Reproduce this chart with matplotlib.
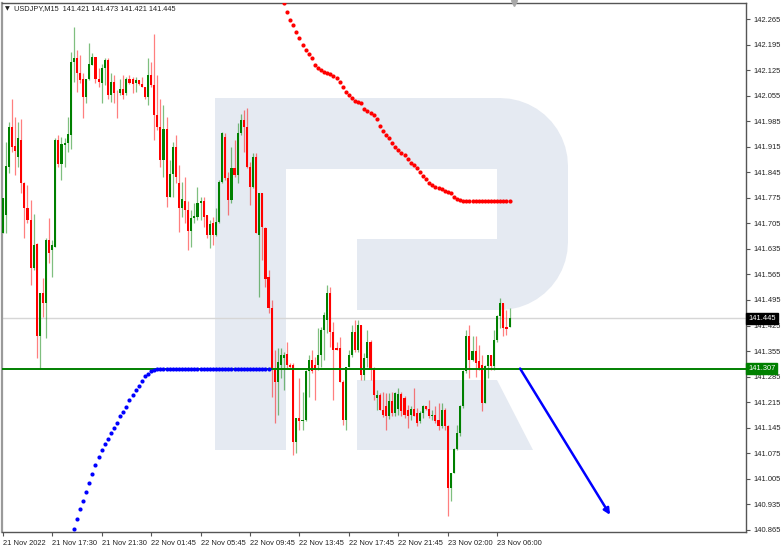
import numpy as np
import matplotlib

matplotlib.use('Agg')
import matplotlib.pyplot as plt
from matplotlib.patches import Polygon
from matplotlib.transforms import Affine2D, blended_transform_factory

plt.rcParams['font.family'] = ['Liberation Sans', 'DejaVu Sans']

# USDJPY M15 candles (index 0 = 21 Nov 13:30)
opens = [141.678, 141.728, 141.860, 141.970, 141.917, 141.888, 141.933, 141.815, 141.746, 141.714,
         141.582, 141.648, 141.395, 141.515, 141.486, 141.659, 141.632, 141.641, 141.933, 141.869,
         141.920, 141.924, 141.947, 142.148, 142.157, 142.116, 142.102, 142.052, 142.102, 142.139,
         142.162, 142.102, 142.089, 142.130, 142.154, 142.057, 142.093, 142.063, 142.061, 142.072,
         142.061, 142.100, 142.100, 142.089, 142.098, 142.087, 142.079, 142.052, 142.111, 142.084,
         142.002, 141.970, 141.879, 141.965, 141.778, 141.840, 141.915, 141.815, 141.746, 141.765,
         141.742, 141.685, 141.719, 141.723, 141.760, 141.765, 141.728, 141.673, 141.705, 141.673,
         141.710, 141.819, 141.942, 141.828, 141.769, 141.856, 141.837, 141.952, 141.988, 141.968,
         141.860, 141.806, 141.888, 141.673, 141.787, 141.691, 141.559, 141.472, 141.303, 141.271,
         141.317, 141.335, 141.346, 141.317, 141.317, 141.107, 141.171, 141.162, 141.166, 141.299,
         141.331, 141.317, 141.317, 141.344, 141.413, 141.440, 141.513, 141.408, 141.362, 141.362,
         141.271, 141.166, 141.312, 141.344, 141.408, 141.358, 141.426, 141.289, 141.335, 141.381,
         141.308, 141.226, 141.235, 141.194, 141.203, 141.176, 141.217, 141.185, 141.195, 141.236,
         141.226, 141.194, 141.180, 141.196, 141.185, 141.162, 141.185, 141.203, 141.196, 141.176,
         141.180, 141.165, 141.149, 141.194, 141.149, 140.980, 141.021, 141.086, 141.130, 141.203,
         141.299, 141.395, 141.331, 141.354, 141.327, 141.317, 141.212, 141.313, 141.345, 141.313,
         141.386, 141.450, 141.486, 141.422, 141.421]
highs = [141.774, 141.929, 141.984, 142.047, 141.997, 141.984, 141.991, 141.819, 141.810, 141.769,
         141.732, 141.650, 141.515, 141.554, 141.664, 141.719, 141.659, 141.938, 141.947, 141.942,
         141.938, 141.997, 142.175, 142.244, 142.180, 142.166, 142.116, 142.102, 142.198, 142.171,
         142.162, 142.130, 142.143, 142.157, 142.157, 142.116, 142.111, 142.070, 142.102, 142.111,
         142.107, 142.111, 142.107, 142.107, 142.098, 142.107, 142.079, 142.157, 142.148, 142.225,
         142.111, 142.047, 142.029, 141.997, 141.879, 141.929, 141.947, 141.865, 141.819, 141.833,
         141.765, 141.742, 141.760, 141.806, 141.778, 141.778, 141.728, 141.714, 141.723, 141.746,
         141.824, 141.956, 141.952, 141.847, 141.915, 141.933, 141.979, 142.006, 142.015, 142.020,
         141.874, 141.897, 141.897, 141.787, 141.787, 141.696, 141.577, 141.495, 141.358, 141.362,
         141.362, 141.353, 141.381, 141.321, 141.321, 141.171, 141.280, 141.244, 141.303, 141.344,
         141.358, 141.340, 141.417, 141.422, 141.463, 141.536, 141.531, 141.435, 141.381, 141.394,
         141.276, 141.312, 141.358, 141.426, 141.440, 141.440, 141.426, 141.349, 141.413, 141.385,
         141.312, 141.248, 141.239, 141.244, 141.240, 141.240, 141.244, 141.244, 141.254, 141.244,
         141.231, 141.208, 141.203, 141.254, 141.199, 141.190, 141.208, 141.205, 141.222, 141.194,
         141.203, 141.212, 141.212, 141.199, 141.153, 141.021, 141.089, 141.153, 141.208, 141.304,
         141.413, 141.427, 141.395, 141.395, 141.372, 141.345, 141.317, 141.345, 141.345, 141.413,
         141.454, 141.500, 141.488, 141.468, 141.473]
lows = [141.678, 141.678, 141.842, 141.901, 141.837, 141.860, 141.787, 141.664, 141.705, 141.536,
        141.577, 141.335, 141.305, 141.449, 141.390, 141.596, 141.559, 141.641, 141.860, 141.824,
        141.860, 141.901, 141.910, 142.093, 142.066, 142.089, 141.993, 142.036, 142.098, 142.139,
        142.089, 142.079, 142.034, 142.084, 142.047, 142.038, 142.034, 141.993, 142.057, 142.045,
        142.057, 142.087, 142.061, 142.066, 142.084, 142.079, 142.047, 142.029, 142.079, 141.933,
        141.961, 141.860, 141.833, 141.751, 141.778, 141.778, 141.815, 141.682, 141.723, 141.705,
        141.632, 141.641, 141.705, 141.714, 141.714, 141.696, 141.664, 141.637, 141.646, 141.670,
        141.705, 141.815, 141.824, 141.728, 141.760, 141.833, 141.815, 141.947, 141.901, 141.856,
        141.755, 141.801, 141.678, 141.504, 141.605, 141.531, 141.458, 141.230, 141.157, 141.180,
        141.280, 141.248, 141.308, 141.308, 141.070, 141.075, 141.139, 141.139, 141.162, 141.230,
        141.294, 141.221, 141.303, 141.312, 141.331, 141.404, 141.367, 141.221, 141.358, 141.271,
        141.152, 141.139, 141.312, 141.340, 141.353, 141.353, 141.276, 141.276, 141.312, 141.276,
        141.221, 141.194, 141.194, 141.175, 141.139, 141.170, 141.176, 141.176, 141.180, 141.176,
        141.171, 141.144, 141.167, 141.176, 141.149, 141.158, 141.171, 141.194, 141.171, 141.167,
        141.158, 141.139, 141.144, 141.139, 140.902, 140.943, 141.021, 141.085, 141.121, 141.199,
        141.295, 141.281, 141.327, 141.285, 141.304, 141.190, 141.212, 141.281, 141.304, 141.304,
        141.381, 141.418, 141.395, 141.400, 141.421]
closes = [141.774, 141.863, 141.970, 141.915, 141.904, 141.938, 141.815, 141.746, 141.714, 141.582,
          141.646, 141.395, 141.515, 141.486, 141.659, 141.623, 141.646, 141.933, 141.869, 141.922,
          141.924, 141.950, 142.148, 142.157, 142.116, 142.098, 142.052, 142.102, 142.143, 142.162,
          142.102, 142.093, 142.130, 142.152, 142.057, 142.093, 142.061, 142.061, 142.072, 142.057,
          142.100, 142.090, 142.087, 142.098, 142.087, 142.079, 142.052, 142.111, 142.084, 142.002,
          141.970, 141.879, 141.965, 141.778, 141.840, 141.915, 141.833, 141.746, 141.771, 141.742,
          141.685, 141.719, 141.725, 141.760, 141.765, 141.723, 141.673, 141.703, 141.673, 141.710,
          141.819, 141.952, 141.828, 141.769, 141.856, 141.837, 141.952, 141.988, 141.968, 141.860,
          141.806, 141.888, 141.678, 141.787, 141.696, 141.552, 141.472, 141.303, 141.271, 141.326,
          141.344, 141.344, 141.317, 141.312, 141.107, 141.171, 141.162, 141.166, 141.299, 141.331,
          141.299, 141.303, 141.344, 141.413, 141.454, 141.513, 141.408, 141.358, 141.358, 141.271,
          141.166, 141.312, 141.344, 141.408, 141.358, 141.426, 141.289, 141.335, 141.381, 141.303,
          141.235, 141.235, 141.194, 141.180, 141.176, 141.217, 141.185, 141.240, 141.236, 141.190,
          141.180, 141.176, 141.196, 141.176, 141.158, 141.185, 141.203, 141.196, 141.176, 141.180,
          141.162, 141.149, 141.194, 141.149, 140.980, 141.021, 141.086, 141.130, 141.203, 141.299,
          141.395, 141.331, 141.354, 141.322, 141.308, 141.212, 141.313, 141.345, 141.313, 141.386,
          141.450, 141.486, 141.418, 141.415, 141.445]

# red dotted indicator, starts at bar 91
red_start = 91
red_line = [142.309, 142.284, 142.262, 142.249, 142.229, 142.213, 142.194, 142.180, 142.169, 142.158,
            142.139, 142.131, 142.125, 142.120, 142.117, 142.114, 142.109, 142.103, 142.092, 142.079,
            142.065, 142.057, 142.049, 142.040, 142.038, 142.035, 142.018, 142.013, 142.007, 142.002,
            141.991, 141.972, 141.958, 141.947, 141.939, 141.925, 141.914, 141.906, 141.898, 141.892,
            141.881, 141.870, 141.865, 141.857, 141.846, 141.835, 141.827, 141.816, 141.810, 141.805,
            141.802, 141.799, 141.794, 141.791, 141.788, 141.777, 141.772, 141.769] + [141.766] * 16

# blue dotted indicator, starts at bar 23
blue_start = 23
blue_line = [140.868, 140.895, 140.922, 140.944, 140.969, 140.994, 141.018, 141.043, 141.065, 141.084,
             141.101, 141.114, 141.131, 141.144, 141.158, 141.177, 141.188, 141.202, 141.221, 141.235,
             141.249, 141.260, 141.273, 141.287, 141.292, 141.301, 141.303] + [141.307] * 37

support = 141.307
bid = 141.445
arrow_from = (167.4, 141.307)
arrow_to = (196.5, 140.906)

x_ticks = [0, 16, 32, 48, 64, 80, 96, 112, 128, 144, 160]
x_labels = ['21 Nov 2022', '21 Nov 17:30', '21 Nov 21:30', '22 Nov 01:45', '22 Nov 05:45',
            '22 Nov 09:45', '22 Nov 13:45', '22 Nov 17:45', '22 Nov 21:45', '23 Nov 02:00',
            '23 Nov 06:00']
y_ticks = [142.265, 142.195, 142.125, 142.055, 141.985, 141.915, 141.845, 141.775, 141.705,
           141.635, 141.565, 141.495, 141.425, 141.355, 141.285, 141.215, 141.145, 141.075,
           141.005, 140.935, 140.865]

W, H = 782, 550
fig = plt.figure(figsize=(W / 100, H / 100), dpi=100)
ax = fig.add_axes([2 / W, 18 / H, 744 / W, 529 / H])
ax.set_xlim(-0.25, 240.5)
ax.set_ylim(140.859, 142.309)

# watermark logo, drawn in pixel space
px = Affine2D().scale(1 / W, -1 / H).translate(0, 1) + fig.transFigure
logo_c = '#e5eaf2'
t = np.linspace(np.pi / 2, 0, 12)
top_arc = [(500 + 68 * np.cos(a), 166 - 68 * np.sin(a)) for a in t]
bot_arc = [(500 + 68 * np.cos(a), 242 + 68 * np.sin(a)) for a in t[::-1]]
bowl = [(215, 98)] + top_arc + bot_arc + [(215, 310)]
for pts, fc in [(bowl, logo_c),
                ([(215, 98), (286, 98), (286, 450), (215, 450)], logo_c),
                ([(357, 380), (497, 380), (533, 450), (357, 450)], logo_c),
                ([(286, 169), (497, 169), (497, 239), (357, 239), (357, 312), (286, 312)], 'white')]:
    ax.add_patch(Polygon(pts, closed=True, fc=fc, ec='none', transform=px, zorder=0))

ax.axhline(bid, color='#d6d6d6', lw=1, zorder=1)
ax.axhline(support, color='#008000', lw=1.4, zorder=4)

# candles
o = np.array(opens)
c = np.array(closes)
idx = np.arange(len(o))
col = np.where(c >= o, '#008000', '#ff0000')
ax.vlines(idx, lows, highs, colors=col, lw=0.9, alpha=0.5, zorder=2)
body = np.maximum(np.abs(c - o), 0.0025)
ax.bar(idx, body, bottom=np.minimum(o, c), width=0.68, color=col, lw=0, zorder=3)

ax.plot(np.arange(red_start, red_start + len(red_line)), red_line, ls='none', marker='o',
        ms=3, color='#ff0000', mec='none', zorder=5)
ax.plot(np.arange(blue_start, blue_start + len(blue_line)), blue_line, ls='none', marker='o',
        ms=3, color='#0000ff', mec='none', zorder=5)

ax.annotate('', xy=arrow_to, xytext=arrow_from,
            arrowprops=dict(arrowstyle='-|>', color='#0000ff', lw=1.8, mutation_scale=9,
                            shrinkA=0, shrinkB=0), zorder=6)

ax.plot([165.3], [142.309], marker='v', color='#a8a8a8', ms=4, clip_on=False, zorder=6)

for s in ax.spines.values():
    s.set_color('#555555')
    s.set_linewidth(1)
ax.spines['left'].set_color('#9a9a9a')
ax.spines['left'].set_linewidth(1.6)

ax.yaxis.tick_right()
ax.set_yticks(y_ticks)
ax.set_yticklabels([f'{v:.3f}' for v in y_ticks])
ax.set_xticks(x_ticks)
ax.set_xticklabels(x_labels, ha='left')
ax.tick_params(axis='both', direction='out', length=3, width=0.8, color='#555555',
               labelsize=5.4, labelcolor='#222222', pad=2)
ax.tick_params(axis='x', pad=3)

ytr = blended_transform_factory(ax.transAxes, ax.transData)
for val, bg in [(bid, 'black'), (support, '#008000')]:
    ax.text(1.003, val, f'{val:.3f}', transform=ytr, fontsize=5.4, color='white',
            va='center', ha='left', zorder=7, clip_on=False,
            bbox=dict(boxstyle='square,pad=0.25', fc=bg, ec=bg))

fig.text(5 / W, 1 - 9 / H, '\u25bc', fontsize=4.5, va='center', color='#222222',
         family=['DejaVu Sans'])
fig.text(14 / W, 1 - 9 / H,
         f'USDJPY,M15  {opens[-1]:.3f} {highs[-1]:.3f} {lows[-1]:.3f} {closes[-1]:.3f}',
         fontsize=5.3, va='center', color='#222222')

fig.savefig('out.png', dpi=100)
